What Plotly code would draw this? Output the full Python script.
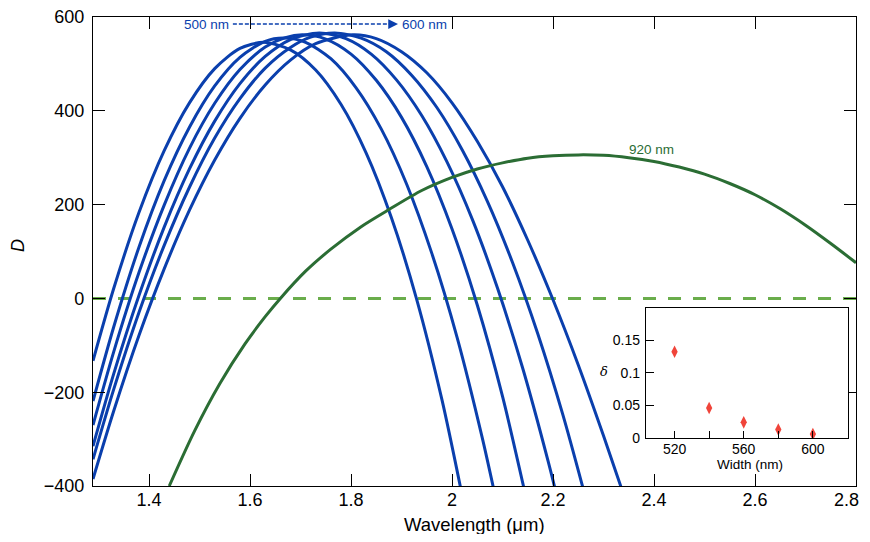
import plotly.graph_objects as go

# ---------------- data ----------------
# Blue dispersion curves D(lambda) for waveguide widths 500 ... 600 nm
c500_x = [1.289, 1.33, 1.38, 1.43, 1.48, 1.53, 1.58, 1.627, 1.68, 1.73, 1.78, 1.83, 1.88, 1.93, 1.98, 2.02]
c500_y = [-133, 21, 183, 315, 417, 490, 533, 546, 530, 487, 414, 310, 172, -2, -216, -420]

c520_x = [1.289, 1.33, 1.38, 1.43, 1.48, 1.53, 1.58, 1.63, 1.667, 1.71, 1.76, 1.81, 1.86, 1.91, 1.96, 2.01, 2.06, 2.09]
c520_y = [-219, -61, 109, 251, 365, 453, 514, 548, 555, 546, 511, 449, 361, 244, 96, -83, -298, -444]

c540_x = [1.289, 1.33, 1.38, 1.43, 1.48, 1.53, 1.58, 1.63, 1.67, 1.704, 1.75, 1.80, 1.85, 1.90, 1.95, 2.00, 2.05, 2.10, 2.15]
c540_y = [-270, -114, 55, 199, 320, 416, 488, 536, 556, 562, 553, 521, 465, 386, 281, 148, -14, -209, -441]

c560_x = [1.289, 1.33, 1.38, 1.43, 1.48, 1.53, 1.58, 1.63, 1.68, 1.737, 1.79, 1.84, 1.89, 1.94, 1.99, 2.04, 2.09, 2.14, 2.19, 2.21]
c560_y = [-315, -161, 6, 152, 276, 378, 458, 516, 552, 566, 554, 521, 466, 390, 291, 169, 22, -149, -346, -432]

c580_x = [1.289, 1.33, 1.38, 1.43, 1.48, 1.53, 1.58, 1.63, 1.68, 1.72, 1.768, 1.82, 1.87, 1.92, 1.97, 2.02, 2.07, 2.12, 2.17, 2.22, 2.265]
c580_y = [-343, -194, -30, 113, 237, 342, 426, 491, 535, 557, 566, 555, 526, 476, 407, 317, 207, 76, -76, -250, -427]

c600_x = [1.289, 1.33, 1.38, 1.43, 1.48, 1.53, 1.58, 1.63, 1.68, 1.73, 1.803, 1.85, 1.90, 1.95, 2.00, 2.05, 2.10, 2.15, 2.20, 2.25, 2.30, 2.34]
c600_y = [-385, -240, -79, 63, 188, 295, 384, 455, 508, 543, 562, 554, 526, 481, 417, 335, 238, 124, -3, -142, -293, -419]

blue_curves = [(c500_x, c500_y), (c520_x, c520_y), (c540_x, c540_y),
               (c560_x, c560_y), (c580_x, c580_y), (c600_x, c600_y)]

# Green curve, 920 nm width
g920_x = [1.44, 1.49, 1.54, 1.59, 1.63, 1.66, 1.71, 1.76, 1.82, 1.876, 1.94, 2.0, 2.05, 2.1, 2.15, 2.2,
          2.25, 2.3, 2.35, 2.4, 2.45, 2.5, 2.55, 2.6, 2.65, 2.7, 2.75, 2.8]
g920_y = [-400, -283, -182, -97, -39, 0, 58, 105, 153, 190, 230, 258, 276, 289, 299, 304,
          306, 305, 300, 292, 280, 265, 245, 221, 191, 156, 117, 76]

# Inset: delta vs width
inset_width = [520, 540, 560, 580, 600]
inset_delta = [0.132, 0.046, 0.024, 0.013, 0.006]

# Tick labels (the last x label is drawn as an annotation so it stays inside the page)
x_tickvals = [1.4, 1.6, 1.8, 2.0, 2.2, 2.4, 2.6, 2.8]
x_ticktext = ["1.4", "1.6", "1.8", "2", "2.2", "2.4", "2.6", ""]
x_last_label = "2.8"
y_tickvals = [-400, -200, 0, 200, 400, 600]
y_ticktext = ["\u2212400", "\u2212200", "0", "200", "400", "600"]
ix_tickvals = [520, 540, 560, 580, 600]
ix_ticktext = ["520", "", "560", "", "600"]
iy_tickvals = [0, 0.05, 0.1, 0.15]
iy_ticktext = ["0", "0.05", "0.1", "0.15"]

X_RANGE = [1.289, 2.8]
Y_RANGE = [-400, 600]

# ---------------- styles ----------------
BLUE = "#0a3fad"
DGREEN = "#2b6d34"
LGREEN = "#6aad4b"
RED = "#f0443a"
FONT = "Liberation Sans, Arial, Helvetica, sans-serif"

fig = go.Figure()

# zero reference line
fig.add_hline(y=0, line=dict(color=LGREEN, width=3, dash="13px,12px"), layer="below")

for cx, cy in blue_curves:
    fig.add_trace(go.Scatter(x=cx, y=cy, mode="lines",
                             line=dict(color=BLUE, width=3, shape="spline", smoothing=0.8),
                             showlegend=False, hoverinfo="skip"))

fig.add_trace(go.Scatter(x=g920_x, y=g920_y, mode="lines",
                         line=dict(color=DGREEN, width=3, shape="spline", smoothing=0.8),
                         showlegend=False, hoverinfo="skip"))

fig.add_trace(go.Scatter(x=inset_width, y=inset_delta, mode="markers", xaxis="x2", yaxis="y2",
                         marker=dict(symbol="diamond-tall", size=9, color=RED, line=dict(width=0)),
                         showlegend=False, hoverinfo="skip"))

axis_common = dict(showline=True, linecolor="black", linewidth=1.3, mirror="ticks", ticks="inside",
                   ticklen=12, tickwidth=1.2, tickcolor="black", showgrid=False, zeroline=False,
                   automargin=False, ticklabeloverflow="allow",
                   tickfont=dict(family=FONT, size=18, color="black"))

inset_common = dict(showline=True, linecolor="black", linewidth=1.3, mirror=True, ticks="inside",
                    tickwidth=1.2, tickcolor="black", showgrid=False, zeroline=False, automargin=False,
                    tickfont=dict(family=FONT, size=14, color="black"))

# page has an 8 px body margin; plot area placed at the reference's pixel positions
fig.update_layout(
    width=870, height=526,
    margin=dict(l=85, r=22, t=9, b=48, autoexpand=False),
    paper_bgcolor="white", plot_bgcolor="white",
    xaxis=dict(range=X_RANGE, tickvals=x_tickvals, ticktext=x_ticktext, domain=[0, 1],
               ticklabelstandoff=-3, **axis_common),
    yaxis=dict(range=Y_RANGE, tickvals=y_tickvals, ticktext=y_ticktext, domain=[0, 1],
               ticklabelstandoff=4, **axis_common),
    xaxis2=dict(range=[503.5, 620.3], domain=[0.7248, 0.9895], anchor="y2",
                tickvals=ix_tickvals, ticktext=ix_ticktext, ticklen=7, ticklabelstandoff=-2, **inset_common),
    yaxis2=dict(range=[0, 0.199], domain=[0.1023, 0.3795], anchor="x2",
                tickvals=iy_tickvals, ticktext=iy_ticktext, ticklen=8, ticklabelstandoff=2, **inset_common),
)

# dashed arrow 500 nm -> 600 nm
fig.add_shape(type="line", xref="x", yref="y", x0=1.566, x1=1.880, y0=585, y1=585,
              line=dict(color=BLUE, width=1.5, dash="4px,2px"))

annotations = [
    dict(x=1.893, y=585, ax=1.872, ay=585, xref="x", yref="y", axref="x", ayref="y",
         text="", showarrow=True, arrowhead=2, arrowsize=1.3, arrowwidth=1.5, arrowcolor=BLUE),
    dict(x=1.562, y=585, xref="x", yref="y", text="500 nm", showarrow=False, xanchor="right",
         yanchor="middle", font=dict(family=FONT, size=13.5, color=BLUE)),
    dict(x=1.897, y=585, xref="x", yref="y", text="600 nm", showarrow=False, xanchor="left",
         yanchor="middle", font=dict(family=FONT, size=13.5, color=BLUE)),
    dict(x=2.396, y=317, xref="x", yref="y", text="920 nm", showarrow=False, xanchor="center",
         yanchor="middle", font=dict(family=FONT, size=13.5, color=DGREEN)),
    dict(x=X_RANGE[1], y=0, xref="x", yref="paper", text=x_last_label, showarrow=False,
         xanchor="right", yanchor="top", xshift=5, yshift=-2, font=dict(family=FONT, size=18, color="black")),
    dict(x=0.5, y=-0.083, xref="paper", yref="paper", text="Wavelength (\u03bcm)", showarrow=False,
         xanchor="center", yanchor="middle", font=dict(family=FONT, size=18.5, color="black")),
    dict(x=-0.0983, y=0.514, xref="paper", yref="paper", text="<i>D</i>", showarrow=False,
         xanchor="center", yanchor="middle", textangle=-90, font=dict(family=FONT, size=18, color="black")),
    dict(x=0.6697, y=0.2431, xref="paper", yref="paper", text="<i>\u03b4</i>", showarrow=False,
         xanchor="center", yanchor="middle", font=dict(family="DejaVu Serif, serif", size=13, color="black")),
    dict(x=0.861, y=0.0448, xref="paper", yref="paper", text="Width (nm)", showarrow=False,
         xanchor="center", yanchor="middle", font=dict(family=FONT, size=13.5, color="black")),
]
fig.update_layout(annotations=annotations)

fig.write_html("out.html")
